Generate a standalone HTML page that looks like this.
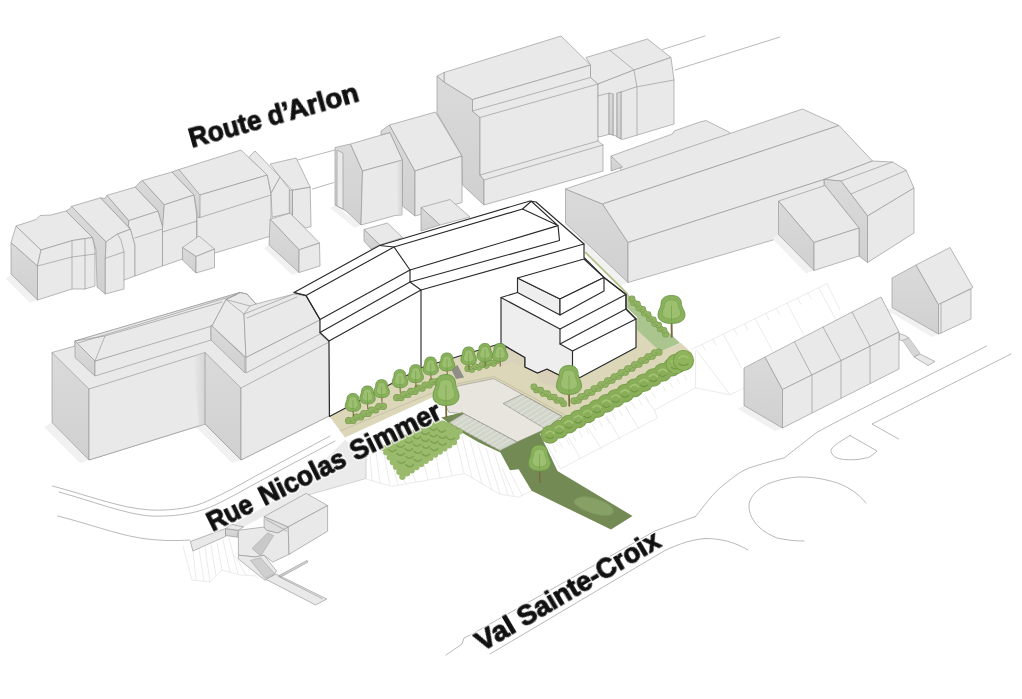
<!DOCTYPE html>
<html lang="fr">
<head>
<meta charset="utf-8">
<title>Plan de situation</title>
<style>
html,body{margin:0;padding:0;background:#fff;}
body{width:1022px;height:699px;overflow:hidden;}
svg{display:block;}
text{text-rendering:geometricPrecision;}
.l{fill:#e9e9e9;stroke:#949494;stroke-width:.65;stroke-linejoin:round;}
.d{fill:url(#dk);stroke:#949494;stroke-width:.65;stroke-linejoin:round;}
.m{fill:#dedede;stroke:#949494;stroke-width:.65;stroke-linejoin:round;}
.g{fill:none;stroke:#949494;stroke-width:.65;stroke-linejoin:round;stroke-linecap:round;}
.sh{fill:#f1f1f1;stroke:none;}
.r{fill:none;stroke:#a2a2a2;stroke-width:.75;stroke-linejoin:round;stroke-linecap:round;}
.f{fill:none;stroke:#e4e4e4;stroke-width:.75;stroke-linejoin:round;stroke-linecap:round;}
.w{fill:#fff;stroke:#2a2a2a;stroke-width:1.15;stroke-linejoin:round;}
.wg{fill:#eeeeef;stroke:#2a2a2a;stroke-width:1.15;stroke-linejoin:round;}
.k{fill:none;stroke:#2a2a2a;stroke-width:1.15;stroke-linejoin:round;stroke-linecap:round;}
.bg{fill:#ddd7b9;stroke:none;}
.pl{fill:#e7e5dd;stroke:#8a8a80;stroke-width:.6;stroke-linejoin:round;}
.gr{fill:#abc58f;stroke:none;}
.bu{fill:#8fb45b;stroke:#6f9a45;stroke-width:.6;}
.dg{fill:#738a54;stroke:none;}
.st{fill:#d2d5c9;stroke:#85857b;stroke-width:.6;stroke-linejoin:round;}
.t{font-family:"Liberation Sans","DejaVu Sans",sans-serif;font-weight:700;fill:#111;stroke:#111;stroke-width:1;stroke-linejoin:round;}

</style>
</head>
<body>
<svg width="1022" height="699" viewBox="0 0 1022 699">
<defs><linearGradient id="shd" x1="0" y1="0" x2="1" y2="0"><stop offset="0" stop-color="#d2d2d2" stop-opacity="0"/><stop offset="1" stop-color="#d2d2d2" stop-opacity=".85"/></linearGradient><linearGradient id="dk" x1="0" y1="0" x2="0" y2="1"><stop offset="0" stop-color="#dadada"/><stop offset="1" stop-color="#d0d0d0"/></linearGradient></defs>
<polyline class="r" points="297.5,160 335,150"/>
<polyline class="r" points="312.5,189 334,182.5"/>
<polyline class="r" points="662.5,49.5 705,36"/>
<polyline class="r" points="675,70 780,37"/>
<polygon class="sh" points="11,274 37.5,300 30,303 6,279"/>
<polygon class="d" points="11,242.5 37.5,266 37.5,300 11,274"/>
<polygon class="l" points="11,242.5 16,226 41,250 37.5,266"/>
<polygon class="l" points="16,226 36,219.5 40,215.5 51,215 66,211 92.5,237.5 72.5,240.5 41,250"/>
<polygon class="l" points="37.5,266 41,250 72.5,240.5 92.5,237.5 95,250 95,286 85,289 72,289 37.5,300"/>
<polyline class="g" points="37.5,266 72,257 95,254"/>
<polyline class="g" points="72,241 72,289"/>
<polyline class="g" points="85,239 85,289"/>
<polygon class="d" points="66,211 70,208.8 71.5,206.4 106.1,241.8 105.3,258.3 105.3,294 97,287 95.9,249.7 92.5,237.5"/>
<polygon class="l" points="71.5,206.4 100.6,197.8 130.5,229.2 117.5,234 106.1,241.8"/>
<polygon class="l" points="106.1,241.8 117.5,234 130.5,229.2 135,245 135,276 124,280 124,289 105.3,294 105.3,258.3"/>
<polyline class="g" points="105.3,258.3 124,252"/>
<polyline class="g" points="117.5,234 121,240 124,252 124,280"/>
<polygon class="d" points="100.6,197.8 104.6,198.5 106.9,195.4 128.9,220.6 128.5,226 130.5,229.2"/>
<polygon class="l" points="106.9,195.4 135.2,187.1 158.1,211.1 128.9,220.6"/>
<polygon class="l" points="128.9,220.6 158.1,211.1 162.5,225 162.5,266 135,276 135,245 130.5,229.2 128.5,226"/>
<polyline class="g" points="135,238 162.5,229"/>
<polygon class="d" points="135.2,187.1 140,182 142.3,180.5 164.3,204.8 162.8,228 158.1,211.1"/>
<polygon class="l" points="142.3,180.5 172,172 194,195 164.3,204.8"/>
<polygon class="l" points="164.3,204.8 194,195 197,217 197,253 182.5,259 162.5,266 162.5,228"/>
<polyline class="g" points="162.5,232 197,221"/>
<polygon class="d" points="172,172 176,170.5 179,169.5 201,194 200,217.5 197,240 197,212 194,195"/>
<polygon class="l" points="179,169.5 241,150 267.5,175 200,195"/>
<polygon class="l" points="200,195 267.5,175 271,195 271,236 215,253 197,253 197,217 200,217.5"/>
<polyline class="g" points="200,217.5 271,195"/>
<polygon class="l" points="182.5,247.5 199,236 214.5,249 196,256.5"/>
<polygon class="d" points="182.5,247.5 196,256.5 196,273 182.5,260"/>
<polygon class="l" points="196,256.5 214.5,249 214.5,267.5 196,273"/>
<polygon class="l" points="292.5,190.1 310.2,187.1 311,226.5 305.5,228 292.5,216"/>
<polygon class="l" points="270.1,164 296.1,158 310.2,187.1 292.1,190.1 280.1,177.1"/>
<polygon class="l" points="249,157.5 251,155 255,151 280.1,177.1 271.1,193 267.3,175.2"/>
<polygon class="l" points="271.1,193 280.1,177.1 290.1,190.1 290.1,213.1 272.1,217.2"/>
<polygon class="d" points="289.3,190.1 292.5,190.1 292.5,215.5 289.3,213.3"/>
<polygon class="sh" points="269,245 299,272.5 292,275 264,248"/>
<polygon class="l" points="270.1,219.2 290.1,213.1 319.5,243 299.1,249.8"/>
<polygon class="d" points="270.1,219.2 299.1,249.8 299,272.5 269,245"/>
<polygon class="l" points="299.1,249.8 319.5,243 320,266 299,272.5"/>
<polygon class="sh" points="335,205 361,225 355,228 330,208"/>
<polygon class="d" points="335,147.5 350.5,144 362.5,171 361,225 346,211 335,205"/>
<polygon class="l" points="337,150 343,153 343,209 337,206"/>
<polygon class="l" points="350.5,144 390,132.5 402.5,160 362.5,171"/>
<polygon class="l" points="362.5,171 402.5,160 402,215 395,215.5 361,225"/>
<polygon points="396,161.8 402.5,160 402,215 398,215.3" fill="url(#shd)"/>
<polygon class="d" points="381,131 389.5,125 415,171 415,216 402.5,206 402.5,160 390,132.5 381,135"/>
<polygon class="l" points="389.5,125 435.5,112 462,156 415,171"/>
<polygon class="l" points="415,171 462,156 462,202.5 415,216"/>
<polygon class="l" points="421,207.5 450,199.5 470,217 440,225"/>
<polygon class="d" points="421,207.5 440,225 421,231"/>
<polygon class="l" points="364,229.5 387.5,223 402.5,237.5 380,245"/>
<polygon class="d" points="364,229.5 380,245 371,249 364,241"/>
<polygon class="d" points="437,76 444,82 472.5,99.5 472.5,111 480,117.5 480,175 484,180 484,205 462.5,185 462,156 437,113"/>
<polygon class="l" points="444,72.5 561,36 590.5,65 472.5,99.5 444,82"/>
<polygon class="l" points="437,76 444,72.5 444,82"/>
<polygon class="l" points="472.5,99.5 590.5,65 590.5,77.5 598,84 598,141 603,145 603,171 484,205 484,180 480,175 480,117.5 472.5,111"/>
<polyline class="g" points="472.5,111 590.5,77.5"/>
<polyline class="g" points="480,117.5 598,84"/>
<polyline class="g" points="480,175 598,141"/>
<polyline class="g" points="484,180 603,145"/>
<polygon class="l" points="586,57.5 647.5,39 671,57.5 634,70 598,84 590.5,77.5 590.5,65"/>
<polygon class="l" points="598,84 634,70 671,57.5 674,80 674,124 622.5,139.5 616,136 610,134 603,136 598,137"/>
<polyline class="g" points="598,96 609,93 609,134"/>
<polyline class="g" points="613,94 613,135"/>
<polyline class="g" points="617,93 617,137"/>
<polyline class="g" points="621,92 621,139"/>
<polygon class="d" points="609,93 613,94 613,135 609,134"/>
<polygon class="d" points="617,93 621,92 621,139 617,137"/>
<polyline class="g" points="621,92 636,87 674,80"/>
<polyline class="g" points="610,50.5 634,70 637,88 637,135"/>
<polygon class="l" points="611,156 672.5,134 674,131 700,122 706,120.5 729,132 735,138 622.5,172"/>
<polygon class="d" points="611,156 622.5,167 611,171"/>
<polygon class="sh" points="565.5,223 628,282.5 620,286 560,226"/>
<polygon class="d" points="565.5,189 602.5,204 628,242.5 628,282.5 565.5,223"/>
<polygon class="l" points="565.5,189 802.5,109 839,125.5 602.5,204"/>
<polygon class="l" points="602.5,204 839,125.5 872.5,161 824,179.5 628,242.5"/>
<polygon class="l" points="628,242.5 824,179.5 824,225 628,282.5"/>
<polygon class="l" points="824,179.5 872.5,161 892.5,162 906,170 914,188 867.5,216 841,181"/>
<polyline class="g" points="841,181 892.5,162"/>
<polyline class="g" points="851,194 906,170.5"/>
<polygon class="d" points="824,179.5 841,181 867.5,216 867.5,262.5 859,256 859,228 825,185.5"/>
<polygon class="l" points="867.5,216 914,188 914,233 867.5,262.5"/>
<polygon class="sh" points="778.5,234.5 814,270.5 806,273.5 772,238"/>
<polygon class="l" points="778.5,201 825,185.5 859,228 814,242.5"/>
<polygon class="d" points="778.5,201 814,242.5 814,270.5 778.5,234.5"/>
<polygon class="l" points="814,242.5 859,228 859,256 814,270.5"/>
<polygon class="sh" points="892,307.5 938.5,334 932,337 886,310"/>
<polygon class="d" points="892,278 916,265 938.5,304.5 938.5,334 892,307.5"/>
<polygon class="l" points="916,265 950,247.5 973,287.5 938.5,304.5"/>
<polygon class="l" points="938.5,304.5 971,289 971,319 941,333 938.5,334"/>
<polyline class="g" points="941,304 941,333"/>
<polyline class="f" points="691.5,349.5 827,283.7"/>
<polyline class="f" points="695.6,350.8 695.6,387.8 730,394.7 697,350.8"/>
<polyline class="f" points="730,394.7 744,388"/>
<polyline class="f" points="702.1,344.4 705.4,350.5"/>
<polyline class="f" points="712.7,339.2 716.0,345.4"/>
<polyline class="f" points="723.3,334.1 741.2,367.5"/>
<polyline class="f" points="733.9,328.9 737.2,335.1"/>
<polyline class="f" points="744.5,323.8 747.8,329.9"/>
<polyline class="f" points="755.1,318.6 773.0,352.0"/>
<polyline class="f" points="765.7,313.4 769.0,319.6"/>
<polyline class="f" points="776.3,308.3 779.6,314.5"/>
<polyline class="f" points="786.9,303.1 804.8,336.6"/>
<polyline class="f" points="797.5,298.0 800.8,304.2"/>
<polyline class="f" points="808.1,292.9 811.4,299.0"/>
<polyline class="f" points="818.7,287.7 836.6,321.1"/>
<polyline class="f" points="827,283.7 840,310"/>
<polygon class="sh" points="744,405.5 782.5,428 775,431 738,409"/>
<polygon class="d" points="744,368 765,357 782.5,389.5 782.5,428 744,405.5"/>
<polygon class="l" points="765,357 881,297 899,332 782.5,389.5"/>
<polygon class="l" points="782.5,389.5 899,332 899,369 782.5,428"/>
<polyline class="g" points="794.5,342 812,375.5 812,412.5"/>
<polyline class="g" points="823,327 841,360.5 841,398"/>
<polyline class="g" points="852,312 870,346 870,383"/>
<polygon class="l" points="899.5,333.5 906,336 909,338 902.5,340.5 899.5,340"/>
<polygon class="" points="902.5,340.5 909,338 920,353 914,357" fill="#d6d6d6" stroke="#a5a5a5" stroke-width=".5"/>
<polygon class="l" points="914,357 920,354 935,361.5 928,365.5"/>
<path class="r" d="M695.5,516.5 C705,505 712,494 724,484.5 C735,476 742,470 752,467 C765,463 775,460 784,458 L816,433 C830,424 960,360 986.5,346"/>
<path class="r" d="M1011,354 L872,424 L898.5,439"/>
<path class="r" d="M850,435.5 L877,451 C872,456 868,458 866,458 C858,460 850,460 844.5,459.5 C838,459 833,457 831,452 C830,448 836,444 850,435.5 Z"/>
<path class="r" d="M866,503 C858,493 848,487 837.5,483 C825,479 812,477 802,477 C790,477 777,480 766.5,484.5 C756,490 749,498 749,506 C749,514 753,521 759,527 C764,532 770,535 777,538 C786,540 795,541 804,541"/>
<path class="r" d="M706,538.5 C720,538.5 735,542 748,550"/>
<path class="r" d="M446,655 L462,644 L464,638 L473,633.5 L655,531 C665,527 680,522 695.5,516.5"/>
<path class="r" d="M490,654 L664,551 C680,543 695,539 706,538.5"/>
<polygon class="sh" points="52,422.5 89,460 80,463 44,427"/>
<polygon class="sh" points="205,424 241,460 232,463 196,427"/>
<polygon class="l" points="52,352.5 75,346 75,341 240,292.5 247,294 256,304 294,294 306,296 320,320 320,334 329,342 329,416 241,460 205,424 89,460"/>
<polygon class="d" points="52,352.5 89,389 89,460 52,422.5"/>
<polygon class="l" points="89,389 205,352.5 205,424 89,460"/>
<polygon points="193,356.3 205,352.5 205,424 199,426" fill="url(#shd)"/>
<polygon class="d" points="205,352.5 241,388 241,460 205,424"/>
<polygon class="l" points="241,388 329,342 329,416 241,460"/>
<polygon class="d" points="75,341 95,361 95,376 75,357.5"/>
<polygon class="l" points="95,361 211,325 211,340 95,376"/>
<polygon class="l" points="75,341 240,292.5 226,299.5 212,326 95,361"/>
<polyline class="g" points="75,341 105,336 95,361"/>
<polyline class="g" points="105,336 222,302"/>
<polyline class="g" points="78,343 236,295"/>
<polygon class="d" points="211,325 245,357.5 245,373 211,340"/>
<polygon class="l" points="212,326 226,299.5 244,314 246,357.5"/>
<polygon class="l" points="244,314 294,294 306,296 320,320 246,357.5"/>
<polygon class="l" points="246,357.5 320,320 320,334 246,373"/>
<polyline class="g" points="226,299.5 240,292.5 247,294 256,304"/>
<polyline class="g" points="226,299.5 250,306 244,314"/>
<polyline class="g" points="250,306 256,304"/>
<polyline class="g" points="247,318 297,297"/>
<path class="r" d="M52.5,486 C90,496 120,508 150,510 C175,511 195,507 207.5,501 C225,493 240,485 255.5,476 L330,436"/>
<path class="r" d="M59,492 C95,502 125,514 150,516 C180,517 200,512 215,505 C232,497 245,489 262,480 L335,441"/>
<path class="r" d="M57.5,516 C90,524 115,534 140,538 C160,541 175,541 190,540"/>
<polyline class="f" points="365.8,457.4 365.8,478.9 391.7,486.4 464.9,473.5 499.3,494 518.7,497.2 531.6,490.7"/>
<polyline class="f" points="370,455 372,481"/>
<polyline class="f" points="376,452 380,483"/>
<polyline class="f" points="383,449 390,485"/>
<polyline class="f" points="392,462 398,485"/>
<polyline class="f" points="400,474 406,484"/>
<polyline class="f" points="412,472 416,482"/>
<polyline class="f" points="424,464 428,480"/>
<polyline class="f" points="436,456 440,478"/>
<polyline class="f" points="446,448 452,476"/>
<polyline class="f" points="456,440 464,473"/>
<polyline class="f" points="462,436 472,478"/>
<polyline class="f" points="470,440 482,484"/>
<polyline class="f" points="478,444 492,490"/>
<polyline class="f" points="486,448 500,494"/>
<polyline class="f" points="494,452 508,495"/>
<polyline class="f" points="502,468 514,496"/>
<polyline class="f" points="510,472 522,495"/>
<polygon class="" points="192,541 225.5,528.6 262,508 300,484 345,440 366,456 366,478.5 308,495 264,516 238,530 225,536 193,551" fill="#ebebeb"/>
<polyline points="308,495 366,478.5 366,456" fill="none" stroke="#c4c4c4" stroke-width=".7"/>
<polyline class="f" points="547.8,446.3 560.5,468.8 657.4,418 654.5,410.1 695.6,387.6"/>
<polyline class="f" points="568.4,437.5 580.1,458"/>
<polyline class="f" points="588,427.7 601.6,449.3"/>
<polyline class="f" points="606.5,416 620.2,439.5"/>
<polyline class="f" points="625.1,406.2 638.8,428.7"/>
<polyline class="f" points="643.7,396.4 654.5,410.1"/>
<polyline class="f" points="553.0,446.0 556.2,452.0"/>
<polyline class="f" points="559.6,442.4 562.8,448.4"/>
<polyline class="f" points="566.2,438.8 569.4,444.8"/>
<polyline class="f" points="572.8,435.2 576.0,441.2"/>
<polyline class="f" points="579.4,431.6 582.6,437.6"/>
<polyline class="f" points="586.0,428.0 589.2,434.0"/>
<polyline class="f" points="592.6,424.4 595.8,430.4"/>
<polyline class="f" points="599.2,420.8 602.4,426.8"/>
<polyline class="f" points="605.8,417.2 609.0,423.2"/>
<polyline class="f" points="612.4,413.6 615.6,419.6"/>
<polyline class="f" points="619.0,410.0 622.2,416.0"/>
<polyline class="f" points="625.6,406.4 628.8,412.4"/>
<polyline class="f" points="632.2,402.8 635.4,408.8"/>
<polyline class="f" points="638.8,399.2 642.0,405.2"/>
<polyline class="f" points="645.4,395.6 648.6,401.6"/>
<polyline class="f" points="652.0,392.0 655.2,398.0"/>
<polyline class="f" points="663.0,386.5 665.5,391.0"/>
<polyline class="f" points="670.0,382.7 672.5,387.2"/>
<polyline class="f" points="677.0,378.9 679.5,383.4"/>
<polyline class="f" points="684.0,375.1 686.5,379.6"/>
<polygon class="bg" points="329.5,416.5 422,367.5 500.5,343.5 525,357.5 547,369 580,377.5 636,347.5 636,319 660,351 681,343 692,353 690,362 562,424 545.6,429 562,416.4 522,394.4 493.7,378.6 459,385.7 437.5,395 345,437.5"/>
<polygon class="pl" points="459,385.7 493.7,378.6 562,416.4 545.6,429 517,442 463.8,413.7 449,412.5 440,396"/>
<polygon class="gr" points="627.2,293.6 680.1,343 660.1,351.5 637.2,330.1 637.2,317.2 627.2,307.9"/>
<polygon class="" points="584.3,252.5 585.8,251.5 628.2,293.3 626.8,294.6" fill="#b3c288"/>
<polygon class="dg" points="441.2,417.5 462.7,412.2 463.8,413.7 449,422.7 500,450.5 517,442 545.6,429 540,434 557.5,471 632.5,516 611,529.5 560,504.7 531.6,490.7 518.7,469.2 510,470.3 500.4,452.5 479,442.5 460,431.5"/>
<path class="" d="M576,499 C583,494 596,498 606,503 C614,507 616,513 610,515 C602,517 590,513 582,509 C575,505 572,502 576,499 Z" fill="#86a066" stroke="#7d985c" stroke-width="1"/>
<polygon class="st" points="449,422.7 463.8,413.7 517,442 500,450.5"/>
<polygon class="st" points="503,403.5 522,394.4 562,416.4 545.6,429"/>
<line x1="453.2" y1="425.0" x2="468.1" y2="416.0" stroke="#e3e5dc" stroke-width=".9"/>
<line x1="457.5" y1="427.3" x2="472.3" y2="418.3" stroke="#e3e5dc" stroke-width=".9"/>
<line x1="461.8" y1="429.6" x2="476.6" y2="420.6" stroke="#e3e5dc" stroke-width=".9"/>
<line x1="466.0" y1="432.0" x2="480.8" y2="423.0" stroke="#e3e5dc" stroke-width=".9"/>
<line x1="470.2" y1="434.3" x2="485.1" y2="425.3" stroke="#e3e5dc" stroke-width=".9"/>
<line x1="474.5" y1="436.6" x2="489.3" y2="427.6" stroke="#e3e5dc" stroke-width=".9"/>
<line x1="478.8" y1="438.9" x2="493.6" y2="429.9" stroke="#e3e5dc" stroke-width=".9"/>
<line x1="483.0" y1="441.2" x2="497.8" y2="432.2" stroke="#e3e5dc" stroke-width=".9"/>
<line x1="487.2" y1="443.6" x2="502.1" y2="434.6" stroke="#e3e5dc" stroke-width=".9"/>
<line x1="491.5" y1="445.9" x2="506.3" y2="436.9" stroke="#e3e5dc" stroke-width=".9"/>
<line x1="495.8" y1="448.2" x2="510.6" y2="439.2" stroke="#e3e5dc" stroke-width=".9"/>
<line x1="507.3" y1="406.1" x2="524.3" y2="395.6" stroke="#e3e5dc" stroke-width=".9"/>
<line x1="511.5" y1="408.6" x2="528.5" y2="398.1" stroke="#e3e5dc" stroke-width=".9"/>
<line x1="515.8" y1="411.1" x2="532.8" y2="400.6" stroke="#e3e5dc" stroke-width=".9"/>
<line x1="520.0" y1="413.7" x2="537.0" y2="403.2" stroke="#e3e5dc" stroke-width=".9"/>
<line x1="524.3" y1="416.2" x2="541.3" y2="405.8" stroke="#e3e5dc" stroke-width=".9"/>
<line x1="528.6" y1="418.8" x2="545.6" y2="408.3" stroke="#e3e5dc" stroke-width=".9"/>
<line x1="532.8" y1="421.4" x2="549.8" y2="410.9" stroke="#e3e5dc" stroke-width=".9"/>
<line x1="537.1" y1="423.9" x2="554.1" y2="413.4" stroke="#e3e5dc" stroke-width=".9"/>
<line x1="541.3" y1="426.4" x2="558.3" y2="415.9" stroke="#e3e5dc" stroke-width=".9"/>
<polygon class="" points="500.5,343.5 525,357.5 525,367 511,362 500,366 492,352" fill="#dad3bb"/>
<polygon class="" points="537.5,373 547,369 566,380 566,392 537.5,381" fill="#d8d0b8"/>
<polygon class="" points="451,369 457.5,365 464,377.5 456,379" fill="#8e8e86"/>
<polyline points="340,431 437,391 459,383.5 494,376.5 565,415" fill="none" stroke="#b9b29a" stroke-width=".6"/>
<circle cx="348.6" cy="420.7" r="3.6" fill="#779c4b"/>
<circle cx="353.1" cy="420.5" r="3.6" fill="#779c4b"/>
<circle cx="356.2" cy="417.2" r="3.6" fill="#779c4b"/>
<circle cx="360.7" cy="416.9" r="3.6" fill="#779c4b"/>
<circle cx="363.8" cy="413.6" r="3.6" fill="#779c4b"/>
<circle cx="368.2" cy="413.4" r="3.6" fill="#779c4b"/>
<circle cx="371.3" cy="410.1" r="3.6" fill="#779c4b"/>
<circle cx="375.8" cy="409.8" r="3.6" fill="#779c4b"/>
<circle cx="378.9" cy="406.5" r="3.6" fill="#779c4b"/>
<circle cx="383.4" cy="406.3" r="3.6" fill="#779c4b"/>
<circle cx="348.6" cy="420.7" r="3.0" fill="#90b262"/>
<circle cx="353.1" cy="420.5" r="3.0" fill="#90b262"/>
<circle cx="356.2" cy="417.2" r="3.0" fill="#90b262"/>
<circle cx="360.7" cy="416.9" r="3.0" fill="#90b262"/>
<circle cx="363.8" cy="413.6" r="3.0" fill="#90b262"/>
<circle cx="368.2" cy="413.4" r="3.0" fill="#90b262"/>
<circle cx="371.3" cy="410.1" r="3.0" fill="#90b262"/>
<circle cx="375.8" cy="409.8" r="3.0" fill="#90b262"/>
<circle cx="378.9" cy="406.5" r="3.0" fill="#90b262"/>
<circle cx="383.4" cy="406.3" r="3.0" fill="#90b262"/>
<path d="M349.4,420.9 q1.5,1.6 3,0" fill="none" stroke="#6f9a45" stroke-width=".7"/>
<path d="M353.2,419.1 q1.5,1.6 3,0" fill="none" stroke="#6f9a45" stroke-width=".7"/>
<path d="M356.9,417.4 q1.5,1.6 3,0" fill="none" stroke="#6f9a45" stroke-width=".7"/>
<path d="M360.7,415.6 q1.5,1.6 3,0" fill="none" stroke="#6f9a45" stroke-width=".7"/>
<path d="M364.5,413.8 q1.5,1.6 3,0" fill="none" stroke="#6f9a45" stroke-width=".7"/>
<path d="M368.3,412.0 q1.5,1.6 3,0" fill="none" stroke="#6f9a45" stroke-width=".7"/>
<path d="M372.1,410.2 q1.5,1.6 3,0" fill="none" stroke="#6f9a45" stroke-width=".7"/>
<path d="M375.8,408.5 q1.5,1.6 3,0" fill="none" stroke="#6f9a45" stroke-width=".7"/>
<path d="M379.6,406.7 q1.5,1.6 3,0" fill="none" stroke="#6f9a45" stroke-width=".7"/>
<circle cx="396.7" cy="397.7" r="3.6" fill="#779c4b"/>
<circle cx="400.9" cy="397.7" r="3.6" fill="#779c4b"/>
<circle cx="403.7" cy="394.6" r="3.6" fill="#779c4b"/>
<circle cx="408.0" cy="394.5" r="3.6" fill="#779c4b"/>
<circle cx="410.8" cy="391.4" r="3.6" fill="#779c4b"/>
<circle cx="415.1" cy="391.3" r="3.6" fill="#779c4b"/>
<circle cx="417.9" cy="388.2" r="3.6" fill="#779c4b"/>
<circle cx="422.2" cy="388.1" r="3.6" fill="#779c4b"/>
<circle cx="425.0" cy="385.0" r="3.6" fill="#779c4b"/>
<circle cx="429.3" cy="384.9" r="3.6" fill="#779c4b"/>
<circle cx="432.1" cy="381.8" r="3.6" fill="#779c4b"/>
<circle cx="436.3" cy="381.8" r="3.6" fill="#779c4b"/>
<circle cx="396.7" cy="397.7" r="3.0" fill="#90b262"/>
<circle cx="400.9" cy="397.7" r="3.0" fill="#90b262"/>
<circle cx="403.7" cy="394.6" r="3.0" fill="#90b262"/>
<circle cx="408.0" cy="394.5" r="3.0" fill="#90b262"/>
<circle cx="410.8" cy="391.4" r="3.0" fill="#90b262"/>
<circle cx="415.1" cy="391.3" r="3.0" fill="#90b262"/>
<circle cx="417.9" cy="388.2" r="3.0" fill="#90b262"/>
<circle cx="422.2" cy="388.1" r="3.0" fill="#90b262"/>
<circle cx="425.0" cy="385.0" r="3.0" fill="#90b262"/>
<circle cx="429.3" cy="384.9" r="3.0" fill="#90b262"/>
<circle cx="432.1" cy="381.8" r="3.0" fill="#90b262"/>
<circle cx="436.3" cy="381.8" r="3.0" fill="#90b262"/>
<path d="M397.3,398.0 q1.5,1.6 3,0" fill="none" stroke="#6f9a45" stroke-width=".7"/>
<path d="M400.8,396.4 q1.5,1.6 3,0" fill="none" stroke="#6f9a45" stroke-width=".7"/>
<path d="M404.4,394.8 q1.5,1.6 3,0" fill="none" stroke="#6f9a45" stroke-width=".7"/>
<path d="M407.9,393.2 q1.5,1.6 3,0" fill="none" stroke="#6f9a45" stroke-width=".7"/>
<path d="M411.5,391.6 q1.5,1.6 3,0" fill="none" stroke="#6f9a45" stroke-width=".7"/>
<path d="M415.0,390.1 q1.5,1.6 3,0" fill="none" stroke="#6f9a45" stroke-width=".7"/>
<path d="M418.5,388.5 q1.5,1.6 3,0" fill="none" stroke="#6f9a45" stroke-width=".7"/>
<path d="M422.1,386.9 q1.5,1.6 3,0" fill="none" stroke="#6f9a45" stroke-width=".7"/>
<path d="M425.6,385.3 q1.5,1.6 3,0" fill="none" stroke="#6f9a45" stroke-width=".7"/>
<path d="M429.2,383.7 q1.5,1.6 3,0" fill="none" stroke="#6f9a45" stroke-width=".7"/>
<path d="M432.7,382.1 q1.5,1.6 3,0" fill="none" stroke="#6f9a45" stroke-width=".7"/>
<circle cx="467.8" cy="368.7" r="3.4" fill="#779c4b"/>
<circle cx="471.8" cy="369.3" r="3.4" fill="#779c4b"/>
<circle cx="475.0" cy="366.7" r="3.4" fill="#779c4b"/>
<circle cx="479.1" cy="367.3" r="3.4" fill="#779c4b"/>
<circle cx="482.3" cy="364.7" r="3.4" fill="#779c4b"/>
<circle cx="486.3" cy="365.3" r="3.4" fill="#779c4b"/>
<circle cx="489.5" cy="362.7" r="3.4" fill="#779c4b"/>
<circle cx="493.6" cy="363.3" r="3.4" fill="#779c4b"/>
<circle cx="496.8" cy="360.7" r="3.4" fill="#779c4b"/>
<circle cx="467.8" cy="368.7" r="2.8" fill="#90b262"/>
<circle cx="471.8" cy="369.3" r="2.8" fill="#90b262"/>
<circle cx="475.0" cy="366.7" r="2.8" fill="#90b262"/>
<circle cx="479.1" cy="367.3" r="2.8" fill="#90b262"/>
<circle cx="482.3" cy="364.7" r="2.8" fill="#90b262"/>
<circle cx="486.3" cy="365.3" r="2.8" fill="#90b262"/>
<circle cx="489.5" cy="362.7" r="2.8" fill="#90b262"/>
<circle cx="493.6" cy="363.3" r="2.8" fill="#90b262"/>
<circle cx="496.8" cy="360.7" r="2.8" fill="#90b262"/>
<path d="M468.3,369.3 q1.5,1.6 3,0" fill="none" stroke="#6f9a45" stroke-width=".7"/>
<path d="M471.9,368.3 q1.5,1.6 3,0" fill="none" stroke="#6f9a45" stroke-width=".7"/>
<path d="M475.6,367.3 q1.5,1.6 3,0" fill="none" stroke="#6f9a45" stroke-width=".7"/>
<path d="M479.2,366.3 q1.5,1.6 3,0" fill="none" stroke="#6f9a45" stroke-width=".7"/>
<path d="M482.8,365.3 q1.5,1.6 3,0" fill="none" stroke="#6f9a45" stroke-width=".7"/>
<path d="M486.4,364.3 q1.5,1.6 3,0" fill="none" stroke="#6f9a45" stroke-width=".7"/>
<path d="M490.1,363.3 q1.5,1.6 3,0" fill="none" stroke="#6f9a45" stroke-width=".7"/>
<path d="M493.7,362.3 q1.5,1.6 3,0" fill="none" stroke="#6f9a45" stroke-width=".7"/>
<circle cx="533.9" cy="386.8" r="3.4" fill="#779c4b"/>
<circle cx="536.5" cy="389.9" r="3.4" fill="#779c4b"/>
<circle cx="540.6" cy="390.2" r="3.4" fill="#779c4b"/>
<circle cx="543.3" cy="393.4" r="3.4" fill="#779c4b"/>
<circle cx="547.4" cy="393.7" r="3.4" fill="#779c4b"/>
<circle cx="550.1" cy="396.8" r="3.4" fill="#779c4b"/>
<circle cx="554.2" cy="397.1" r="3.4" fill="#779c4b"/>
<circle cx="556.9" cy="400.3" r="3.4" fill="#779c4b"/>
<circle cx="561.0" cy="400.6" r="3.4" fill="#779c4b"/>
<circle cx="563.6" cy="403.7" r="3.4" fill="#779c4b"/>
<circle cx="533.9" cy="386.8" r="2.8" fill="#90b262"/>
<circle cx="536.5" cy="389.9" r="2.8" fill="#90b262"/>
<circle cx="540.6" cy="390.2" r="2.8" fill="#90b262"/>
<circle cx="543.3" cy="393.4" r="2.8" fill="#90b262"/>
<circle cx="547.4" cy="393.7" r="2.8" fill="#90b262"/>
<circle cx="550.1" cy="396.8" r="2.8" fill="#90b262"/>
<circle cx="554.2" cy="397.1" r="2.8" fill="#90b262"/>
<circle cx="556.9" cy="400.3" r="2.8" fill="#90b262"/>
<circle cx="561.0" cy="400.6" r="2.8" fill="#90b262"/>
<circle cx="563.6" cy="403.7" r="2.8" fill="#90b262"/>
<path d="M533.7,388.7 q1.5,1.6 3,0" fill="none" stroke="#6f9a45" stroke-width=".7"/>
<path d="M537.1,390.4 q1.5,1.6 3,0" fill="none" stroke="#6f9a45" stroke-width=".7"/>
<path d="M540.5,392.1 q1.5,1.6 3,0" fill="none" stroke="#6f9a45" stroke-width=".7"/>
<path d="M543.9,393.8 q1.5,1.6 3,0" fill="none" stroke="#6f9a45" stroke-width=".7"/>
<path d="M547.2,395.6 q1.5,1.6 3,0" fill="none" stroke="#6f9a45" stroke-width=".7"/>
<path d="M550.6,397.3 q1.5,1.6 3,0" fill="none" stroke="#6f9a45" stroke-width=".7"/>
<path d="M554.0,399.0 q1.5,1.6 3,0" fill="none" stroke="#6f9a45" stroke-width=".7"/>
<path d="M557.4,400.7 q1.5,1.6 3,0" fill="none" stroke="#6f9a45" stroke-width=".7"/>
<path d="M560.8,402.4 q1.5,1.6 3,0" fill="none" stroke="#6f9a45" stroke-width=".7"/>
<circle cx="574.1" cy="400.8" r="3.6" fill="#779c4b"/>
<circle cx="578.3" cy="400.2" r="3.6" fill="#779c4b"/>
<circle cx="580.8" cy="396.8" r="3.6" fill="#779c4b"/>
<circle cx="585.0" cy="396.2" r="3.6" fill="#779c4b"/>
<circle cx="587.5" cy="392.8" r="3.6" fill="#779c4b"/>
<circle cx="591.7" cy="392.2" r="3.6" fill="#779c4b"/>
<circle cx="594.2" cy="388.8" r="3.6" fill="#779c4b"/>
<circle cx="598.4" cy="388.2" r="3.6" fill="#779c4b"/>
<circle cx="601.0" cy="384.8" r="3.6" fill="#779c4b"/>
<circle cx="605.2" cy="384.2" r="3.6" fill="#779c4b"/>
<circle cx="607.7" cy="380.8" r="3.6" fill="#779c4b"/>
<circle cx="611.9" cy="380.2" r="3.6" fill="#779c4b"/>
<circle cx="614.4" cy="376.8" r="3.6" fill="#779c4b"/>
<circle cx="618.6" cy="376.2" r="3.6" fill="#779c4b"/>
<circle cx="621.1" cy="372.8" r="3.6" fill="#779c4b"/>
<circle cx="625.3" cy="372.2" r="3.6" fill="#779c4b"/>
<circle cx="627.8" cy="368.8" r="3.6" fill="#779c4b"/>
<circle cx="632.0" cy="368.2" r="3.6" fill="#779c4b"/>
<circle cx="634.6" cy="364.8" r="3.6" fill="#779c4b"/>
<circle cx="638.8" cy="364.2" r="3.6" fill="#779c4b"/>
<circle cx="641.3" cy="360.8" r="3.6" fill="#779c4b"/>
<circle cx="645.5" cy="360.2" r="3.6" fill="#779c4b"/>
<circle cx="648.0" cy="356.8" r="3.6" fill="#779c4b"/>
<circle cx="652.2" cy="356.2" r="3.6" fill="#779c4b"/>
<circle cx="654.7" cy="352.8" r="3.6" fill="#779c4b"/>
<circle cx="658.9" cy="352.2" r="3.6" fill="#779c4b"/>
<circle cx="574.1" cy="400.8" r="3.0" fill="#90b262"/>
<circle cx="578.3" cy="400.2" r="3.0" fill="#90b262"/>
<circle cx="580.8" cy="396.8" r="3.0" fill="#90b262"/>
<circle cx="585.0" cy="396.2" r="3.0" fill="#90b262"/>
<circle cx="587.5" cy="392.8" r="3.0" fill="#90b262"/>
<circle cx="591.7" cy="392.2" r="3.0" fill="#90b262"/>
<circle cx="594.2" cy="388.8" r="3.0" fill="#90b262"/>
<circle cx="598.4" cy="388.2" r="3.0" fill="#90b262"/>
<circle cx="601.0" cy="384.8" r="3.0" fill="#90b262"/>
<circle cx="605.2" cy="384.2" r="3.0" fill="#90b262"/>
<circle cx="607.7" cy="380.8" r="3.0" fill="#90b262"/>
<circle cx="611.9" cy="380.2" r="3.0" fill="#90b262"/>
<circle cx="614.4" cy="376.8" r="3.0" fill="#90b262"/>
<circle cx="618.6" cy="376.2" r="3.0" fill="#90b262"/>
<circle cx="621.1" cy="372.8" r="3.0" fill="#90b262"/>
<circle cx="625.3" cy="372.2" r="3.0" fill="#90b262"/>
<circle cx="627.8" cy="368.8" r="3.0" fill="#90b262"/>
<circle cx="632.0" cy="368.2" r="3.0" fill="#90b262"/>
<circle cx="634.6" cy="364.8" r="3.0" fill="#90b262"/>
<circle cx="638.8" cy="364.2" r="3.0" fill="#90b262"/>
<circle cx="641.3" cy="360.8" r="3.0" fill="#90b262"/>
<circle cx="645.5" cy="360.2" r="3.0" fill="#90b262"/>
<circle cx="648.0" cy="356.8" r="3.0" fill="#90b262"/>
<circle cx="652.2" cy="356.2" r="3.0" fill="#90b262"/>
<circle cx="654.7" cy="352.8" r="3.0" fill="#90b262"/>
<circle cx="658.9" cy="352.2" r="3.0" fill="#90b262"/>
<path d="M574.7,400.8 q1.5,1.6 3,0" fill="none" stroke="#6f9a45" stroke-width=".7"/>
<path d="M578.0,398.8 q1.5,1.6 3,0" fill="none" stroke="#6f9a45" stroke-width=".7"/>
<path d="M581.4,396.8 q1.5,1.6 3,0" fill="none" stroke="#6f9a45" stroke-width=".7"/>
<path d="M584.8,394.8 q1.5,1.6 3,0" fill="none" stroke="#6f9a45" stroke-width=".7"/>
<path d="M588.1,392.8 q1.5,1.6 3,0" fill="none" stroke="#6f9a45" stroke-width=".7"/>
<path d="M591.5,390.8 q1.5,1.6 3,0" fill="none" stroke="#6f9a45" stroke-width=".7"/>
<path d="M594.8,388.8 q1.5,1.6 3,0" fill="none" stroke="#6f9a45" stroke-width=".7"/>
<path d="M598.2,386.8 q1.5,1.6 3,0" fill="none" stroke="#6f9a45" stroke-width=".7"/>
<path d="M601.6,384.8 q1.5,1.6 3,0" fill="none" stroke="#6f9a45" stroke-width=".7"/>
<path d="M604.9,382.8 q1.5,1.6 3,0" fill="none" stroke="#6f9a45" stroke-width=".7"/>
<path d="M608.3,380.8 q1.5,1.6 3,0" fill="none" stroke="#6f9a45" stroke-width=".7"/>
<path d="M611.6,378.8 q1.5,1.6 3,0" fill="none" stroke="#6f9a45" stroke-width=".7"/>
<path d="M615.0,376.8 q1.5,1.6 3,0" fill="none" stroke="#6f9a45" stroke-width=".7"/>
<path d="M618.4,374.8 q1.5,1.6 3,0" fill="none" stroke="#6f9a45" stroke-width=".7"/>
<path d="M621.7,372.8 q1.5,1.6 3,0" fill="none" stroke="#6f9a45" stroke-width=".7"/>
<path d="M625.1,370.8 q1.5,1.6 3,0" fill="none" stroke="#6f9a45" stroke-width=".7"/>
<path d="M628.4,368.8 q1.5,1.6 3,0" fill="none" stroke="#6f9a45" stroke-width=".7"/>
<path d="M631.8,366.8 q1.5,1.6 3,0" fill="none" stroke="#6f9a45" stroke-width=".7"/>
<path d="M635.2,364.8 q1.5,1.6 3,0" fill="none" stroke="#6f9a45" stroke-width=".7"/>
<path d="M638.5,362.8 q1.5,1.6 3,0" fill="none" stroke="#6f9a45" stroke-width=".7"/>
<path d="M641.9,360.8 q1.5,1.6 3,0" fill="none" stroke="#6f9a45" stroke-width=".7"/>
<path d="M645.2,358.8 q1.5,1.6 3,0" fill="none" stroke="#6f9a45" stroke-width=".7"/>
<path d="M648.6,356.8 q1.5,1.6 3,0" fill="none" stroke="#6f9a45" stroke-width=".7"/>
<path d="M652.0,354.8 q1.5,1.6 3,0" fill="none" stroke="#6f9a45" stroke-width=".7"/>
<path d="M655.3,352.8 q1.5,1.6 3,0" fill="none" stroke="#6f9a45" stroke-width=".7"/>
<circle cx="632.0" cy="298.9" r="3.4" fill="#779c4b"/>
<circle cx="633.6" cy="302.7" r="3.4" fill="#779c4b"/>
<circle cx="637.4" cy="304.2" r="3.4" fill="#779c4b"/>
<circle cx="638.9" cy="307.9" r="3.4" fill="#779c4b"/>
<circle cx="642.7" cy="309.4" r="3.4" fill="#779c4b"/>
<circle cx="644.2" cy="313.1" r="3.4" fill="#779c4b"/>
<circle cx="648.0" cy="314.6" r="3.4" fill="#779c4b"/>
<circle cx="649.5" cy="318.4" r="3.4" fill="#779c4b"/>
<circle cx="653.3" cy="319.9" r="3.4" fill="#779c4b"/>
<circle cx="654.8" cy="323.6" r="3.4" fill="#779c4b"/>
<circle cx="658.6" cy="325.1" r="3.4" fill="#779c4b"/>
<circle cx="660.1" cy="328.8" r="3.4" fill="#779c4b"/>
<circle cx="663.9" cy="330.3" r="3.4" fill="#779c4b"/>
<circle cx="665.5" cy="334.1" r="3.4" fill="#779c4b"/>
<circle cx="632.0" cy="298.9" r="2.8" fill="#90b262"/>
<circle cx="633.6" cy="302.7" r="2.8" fill="#90b262"/>
<circle cx="637.4" cy="304.2" r="2.8" fill="#90b262"/>
<circle cx="638.9" cy="307.9" r="2.8" fill="#90b262"/>
<circle cx="642.7" cy="309.4" r="2.8" fill="#90b262"/>
<circle cx="644.2" cy="313.1" r="2.8" fill="#90b262"/>
<circle cx="648.0" cy="314.6" r="2.8" fill="#90b262"/>
<circle cx="649.5" cy="318.4" r="2.8" fill="#90b262"/>
<circle cx="653.3" cy="319.9" r="2.8" fill="#90b262"/>
<circle cx="654.8" cy="323.6" r="2.8" fill="#90b262"/>
<circle cx="658.6" cy="325.1" r="2.8" fill="#90b262"/>
<circle cx="660.1" cy="328.8" r="2.8" fill="#90b262"/>
<circle cx="663.9" cy="330.3" r="2.8" fill="#90b262"/>
<circle cx="665.5" cy="334.1" r="2.8" fill="#90b262"/>
<path d="M631.3,301.1 q1.5,1.6 3,0" fill="none" stroke="#6f9a45" stroke-width=".7"/>
<path d="M634.0,303.7 q1.5,1.6 3,0" fill="none" stroke="#6f9a45" stroke-width=".7"/>
<path d="M636.6,306.3 q1.5,1.6 3,0" fill="none" stroke="#6f9a45" stroke-width=".7"/>
<path d="M639.3,309.0 q1.5,1.6 3,0" fill="none" stroke="#6f9a45" stroke-width=".7"/>
<path d="M641.9,311.6 q1.5,1.6 3,0" fill="none" stroke="#6f9a45" stroke-width=".7"/>
<path d="M644.6,314.2 q1.5,1.6 3,0" fill="none" stroke="#6f9a45" stroke-width=".7"/>
<path d="M647.2,316.8 q1.5,1.6 3,0" fill="none" stroke="#6f9a45" stroke-width=".7"/>
<path d="M649.9,319.4 q1.5,1.6 3,0" fill="none" stroke="#6f9a45" stroke-width=".7"/>
<path d="M652.6,322.0 q1.5,1.6 3,0" fill="none" stroke="#6f9a45" stroke-width=".7"/>
<path d="M655.2,324.6 q1.5,1.6 3,0" fill="none" stroke="#6f9a45" stroke-width=".7"/>
<path d="M657.9,327.3 q1.5,1.6 3,0" fill="none" stroke="#6f9a45" stroke-width=".7"/>
<path d="M660.5,329.9 q1.5,1.6 3,0" fill="none" stroke="#6f9a45" stroke-width=".7"/>
<path d="M663.2,332.5 q1.5,1.6 3,0" fill="none" stroke="#6f9a45" stroke-width=".7"/>
<circle cx="550.0" cy="434.5" r="9.3" fill="#769f49"/>
<circle cx="559.4" cy="429.3" r="9.3" fill="#769f49"/>
<circle cx="568.8" cy="424.1" r="9.3" fill="#769f49"/>
<circle cx="578.2" cy="419.0" r="9.3" fill="#769f49"/>
<circle cx="587.6" cy="413.8" r="9.3" fill="#769f49"/>
<circle cx="597.0" cy="408.6" r="9.3" fill="#769f49"/>
<circle cx="606.4" cy="403.4" r="9.3" fill="#769f49"/>
<circle cx="615.8" cy="398.2" r="9.3" fill="#769f49"/>
<circle cx="625.1" cy="393.1" r="9.3" fill="#769f49"/>
<circle cx="634.5" cy="387.9" r="9.3" fill="#769f49"/>
<circle cx="643.9" cy="382.7" r="9.3" fill="#769f49"/>
<circle cx="653.3" cy="377.5" r="9.3" fill="#769f49"/>
<circle cx="662.7" cy="372.4" r="9.3" fill="#769f49"/>
<circle cx="672.1" cy="367.2" r="9.3" fill="#769f49"/>
<circle cx="681.5" cy="362.0" r="9.3" fill="#769f49"/>
<circle cx="550.0" cy="434.5" r="8.4" fill="#8aad5a"/>
<circle cx="559.4" cy="429.3" r="8.4" fill="#8aad5a"/>
<circle cx="568.8" cy="424.1" r="8.4" fill="#8aad5a"/>
<circle cx="578.2" cy="419.0" r="8.4" fill="#8aad5a"/>
<circle cx="587.6" cy="413.8" r="8.4" fill="#8aad5a"/>
<circle cx="597.0" cy="408.6" r="8.4" fill="#8aad5a"/>
<circle cx="606.4" cy="403.4" r="8.4" fill="#8aad5a"/>
<circle cx="615.8" cy="398.2" r="8.4" fill="#8aad5a"/>
<circle cx="625.1" cy="393.1" r="8.4" fill="#8aad5a"/>
<circle cx="634.5" cy="387.9" r="8.4" fill="#8aad5a"/>
<circle cx="643.9" cy="382.7" r="8.4" fill="#8aad5a"/>
<circle cx="653.3" cy="377.5" r="8.4" fill="#8aad5a"/>
<circle cx="662.7" cy="372.4" r="8.4" fill="#8aad5a"/>
<circle cx="672.1" cy="367.2" r="8.4" fill="#8aad5a"/>
<circle cx="681.5" cy="362.0" r="8.4" fill="#8aad5a"/>
<path d="M546.0,433.5 q4,-4.5 8,0" fill="none" stroke="#a3c672" stroke-width="1.6" stroke-linecap="round"/>
<path d="M546.5,437.0 q3.5,3.2 7,0" fill="none" stroke="#6b9643" stroke-width="1.1" stroke-linecap="round"/>
<path d="M555.4,428.3 q4,-4.5 8,0" fill="none" stroke="#a3c672" stroke-width="1.6" stroke-linecap="round"/>
<path d="M555.9,431.8 q3.5,3.2 7,0" fill="none" stroke="#6b9643" stroke-width="1.1" stroke-linecap="round"/>
<path d="M564.8,423.1 q4,-4.5 8,0" fill="none" stroke="#a3c672" stroke-width="1.6" stroke-linecap="round"/>
<path d="M565.3,426.6 q3.5,3.2 7,0" fill="none" stroke="#6b9643" stroke-width="1.1" stroke-linecap="round"/>
<path d="M574.2,418.0 q4,-4.5 8,0" fill="none" stroke="#a3c672" stroke-width="1.6" stroke-linecap="round"/>
<path d="M574.7,421.5 q3.5,3.2 7,0" fill="none" stroke="#6b9643" stroke-width="1.1" stroke-linecap="round"/>
<path d="M583.6,412.8 q4,-4.5 8,0" fill="none" stroke="#a3c672" stroke-width="1.6" stroke-linecap="round"/>
<path d="M584.1,416.3 q3.5,3.2 7,0" fill="none" stroke="#6b9643" stroke-width="1.1" stroke-linecap="round"/>
<path d="M593.0,407.6 q4,-4.5 8,0" fill="none" stroke="#a3c672" stroke-width="1.6" stroke-linecap="round"/>
<path d="M593.5,411.1 q3.5,3.2 7,0" fill="none" stroke="#6b9643" stroke-width="1.1" stroke-linecap="round"/>
<path d="M602.4,402.4 q4,-4.5 8,0" fill="none" stroke="#a3c672" stroke-width="1.6" stroke-linecap="round"/>
<path d="M602.9,405.9 q3.5,3.2 7,0" fill="none" stroke="#6b9643" stroke-width="1.1" stroke-linecap="round"/>
<path d="M611.8,397.2 q4,-4.5 8,0" fill="none" stroke="#a3c672" stroke-width="1.6" stroke-linecap="round"/>
<path d="M612.2,400.8 q3.5,3.2 7,0" fill="none" stroke="#6b9643" stroke-width="1.1" stroke-linecap="round"/>
<path d="M621.1,392.1 q4,-4.5 8,0" fill="none" stroke="#a3c672" stroke-width="1.6" stroke-linecap="round"/>
<path d="M621.6,395.6 q3.5,3.2 7,0" fill="none" stroke="#6b9643" stroke-width="1.1" stroke-linecap="round"/>
<path d="M630.5,386.9 q4,-4.5 8,0" fill="none" stroke="#a3c672" stroke-width="1.6" stroke-linecap="round"/>
<path d="M631.0,390.4 q3.5,3.2 7,0" fill="none" stroke="#6b9643" stroke-width="1.1" stroke-linecap="round"/>
<path d="M639.9,381.7 q4,-4.5 8,0" fill="none" stroke="#a3c672" stroke-width="1.6" stroke-linecap="round"/>
<path d="M640.4,385.2 q3.5,3.2 7,0" fill="none" stroke="#6b9643" stroke-width="1.1" stroke-linecap="round"/>
<path d="M649.3,376.5 q4,-4.5 8,0" fill="none" stroke="#a3c672" stroke-width="1.6" stroke-linecap="round"/>
<path d="M649.8,380.0 q3.5,3.2 7,0" fill="none" stroke="#6b9643" stroke-width="1.1" stroke-linecap="round"/>
<path d="M658.7,371.4 q4,-4.5 8,0" fill="none" stroke="#a3c672" stroke-width="1.6" stroke-linecap="round"/>
<path d="M659.2,374.9 q3.5,3.2 7,0" fill="none" stroke="#6b9643" stroke-width="1.1" stroke-linecap="round"/>
<path d="M668.1,366.2 q4,-4.5 8,0" fill="none" stroke="#a3c672" stroke-width="1.6" stroke-linecap="round"/>
<path d="M668.6,369.7 q3.5,3.2 7,0" fill="none" stroke="#6b9643" stroke-width="1.1" stroke-linecap="round"/>
<path d="M677.5,361.0 q4,-4.5 8,0" fill="none" stroke="#a3c672" stroke-width="1.6" stroke-linecap="round"/>
<path d="M678.0,364.5 q3.5,3.2 7,0" fill="none" stroke="#6b9643" stroke-width="1.1" stroke-linecap="round"/>
<circle cx="676" cy="364" r="10.2" fill="#769f49"/>
<circle cx="676" cy="364" r="9.299999999999999" fill="#8fb45b"/>
<path d="M671,367 q5,4 10,0" fill="none" stroke="#6b9643" stroke-width="1.1"/>
<path d="M671,362 q5,-5 10,0" fill="none" stroke="#a3c672" stroke-width="1.6"/>
<circle cx="683.5" cy="360.5" r="10.6" fill="#769f49"/>
<circle cx="683.5" cy="360.5" r="9.7" fill="#8fb45b"/>
<path d="M678.5,363.5 q5,4 10,0" fill="none" stroke="#6b9643" stroke-width="1.1"/>
<path d="M678.5,358.5 q5,-5 10,0" fill="none" stroke="#a3c672" stroke-width="1.6"/>
<path d="M383,447.7 L436.9,420.8 Q452,421 459.5,431.5 Q459,440 452,443.5 L402.4,476.7 Z" fill="#9aba6c" stroke="#86aa58" stroke-width=".8" stroke-linejoin="round"/>
<circle cx="383.0" cy="447.7" r="3" fill="#9aba6c"/>
<circle cx="388.4" cy="445.0" r="3" fill="#9aba6c"/>
<circle cx="393.8" cy="442.3" r="3" fill="#9aba6c"/>
<circle cx="399.2" cy="439.6" r="3" fill="#9aba6c"/>
<circle cx="404.6" cy="436.9" r="3" fill="#9aba6c"/>
<circle cx="409.9" cy="434.2" r="3" fill="#9aba6c"/>
<circle cx="415.3" cy="431.6" r="3" fill="#9aba6c"/>
<circle cx="420.7" cy="428.9" r="3" fill="#9aba6c"/>
<circle cx="426.1" cy="426.2" r="3" fill="#9aba6c"/>
<circle cx="431.5" cy="423.5" r="3" fill="#9aba6c"/>
<circle cx="436.9" cy="420.8" r="3" fill="#9aba6c"/>
<circle cx="436.9" cy="420.8" r="3" fill="#9aba6c"/>
<circle cx="442.5" cy="423.5" r="3" fill="#9aba6c"/>
<circle cx="448.2" cy="426.1" r="3" fill="#9aba6c"/>
<circle cx="453.9" cy="428.8" r="3" fill="#9aba6c"/>
<circle cx="459.5" cy="431.5" r="3" fill="#9aba6c"/>
<circle cx="459.5" cy="431.5" r="3" fill="#9aba6c"/>
<circle cx="456.8" cy="436.9" r="3" fill="#9aba6c"/>
<circle cx="454.0" cy="442.3" r="3" fill="#9aba6c"/>
<circle cx="454.0" cy="442.3" r="3" fill="#9aba6c"/>
<circle cx="449.3" cy="445.4" r="3" fill="#9aba6c"/>
<circle cx="444.6" cy="448.6" r="3" fill="#9aba6c"/>
<circle cx="439.9" cy="451.7" r="3" fill="#9aba6c"/>
<circle cx="435.2" cy="454.8" r="3" fill="#9aba6c"/>
<circle cx="430.5" cy="457.9" r="3" fill="#9aba6c"/>
<circle cx="425.9" cy="461.1" r="3" fill="#9aba6c"/>
<circle cx="421.2" cy="464.2" r="3" fill="#9aba6c"/>
<circle cx="416.5" cy="467.3" r="3" fill="#9aba6c"/>
<circle cx="411.8" cy="470.4" r="3" fill="#9aba6c"/>
<circle cx="407.1" cy="473.6" r="3" fill="#9aba6c"/>
<circle cx="402.4" cy="476.7" r="3" fill="#9aba6c"/>
<circle cx="402.4" cy="476.7" r="3" fill="#9aba6c"/>
<circle cx="399.2" cy="471.9" r="3" fill="#9aba6c"/>
<circle cx="395.9" cy="467.0" r="3" fill="#9aba6c"/>
<circle cx="392.7" cy="462.2" r="3" fill="#9aba6c"/>
<circle cx="389.5" cy="457.4" r="3" fill="#9aba6c"/>
<circle cx="386.2" cy="452.5" r="3" fill="#9aba6c"/>
<circle cx="383.0" cy="447.7" r="3" fill="#9aba6c"/>
<path d="M388.8,449.8 q3.6,3.6 7.2,0" fill="none" stroke="#7da253" stroke-width="1.5" stroke-linecap="round"/>
<path d="M397.0,445.5 q3.6,3.6 7.2,0" fill="none" stroke="#7da253" stroke-width="1.5" stroke-linecap="round"/>
<path d="M405.3,441.2 q3.6,3.6 7.2,0" fill="none" stroke="#7da253" stroke-width="1.5" stroke-linecap="round"/>
<path d="M413.5,436.9 q3.6,3.6 7.2,0" fill="none" stroke="#7da253" stroke-width="1.5" stroke-linecap="round"/>
<path d="M421.8,432.6 q3.6,3.6 7.2,0" fill="none" stroke="#7da253" stroke-width="1.5" stroke-linecap="round"/>
<path d="M430.0,428.3 q3.6,3.6 7.2,0" fill="none" stroke="#7da253" stroke-width="1.5" stroke-linecap="round"/>
<path d="M397.0,453.6 q3.6,3.6 7.2,0" fill="none" stroke="#7da253" stroke-width="1.5" stroke-linecap="round"/>
<path d="M405.2,448.9 q3.6,3.6 7.2,0" fill="none" stroke="#7da253" stroke-width="1.5" stroke-linecap="round"/>
<path d="M413.5,444.2 q3.6,3.6 7.2,0" fill="none" stroke="#7da253" stroke-width="1.5" stroke-linecap="round"/>
<path d="M421.8,439.6 q3.6,3.6 7.2,0" fill="none" stroke="#7da253" stroke-width="1.5" stroke-linecap="round"/>
<path d="M430.0,434.9 q3.6,3.6 7.2,0" fill="none" stroke="#7da253" stroke-width="1.5" stroke-linecap="round"/>
<path d="M438.3,430.3 q3.6,3.6 7.2,0" fill="none" stroke="#7da253" stroke-width="1.5" stroke-linecap="round"/>
<path d="M397.8,461.5 q3.6,3.6 7.2,0" fill="none" stroke="#7da253" stroke-width="1.5" stroke-linecap="round"/>
<path d="M406.0,456.5 q3.6,3.6 7.2,0" fill="none" stroke="#7da253" stroke-width="1.5" stroke-linecap="round"/>
<path d="M414.3,451.5 q3.6,3.6 7.2,0" fill="none" stroke="#7da253" stroke-width="1.5" stroke-linecap="round"/>
<path d="M422.5,446.4 q3.6,3.6 7.2,0" fill="none" stroke="#7da253" stroke-width="1.5" stroke-linecap="round"/>
<path d="M430.8,441.4 q3.6,3.6 7.2,0" fill="none" stroke="#7da253" stroke-width="1.5" stroke-linecap="round"/>
<path d="M439.0,436.4 q3.6,3.6 7.2,0" fill="none" stroke="#7da253" stroke-width="1.5" stroke-linecap="round"/>
<path d="M406.0,464.9 q3.6,3.6 7.2,0" fill="none" stroke="#7da253" stroke-width="1.5" stroke-linecap="round"/>
<path d="M414.2,459.5 q3.6,3.6 7.2,0" fill="none" stroke="#7da253" stroke-width="1.5" stroke-linecap="round"/>
<path d="M422.5,454.1 q3.6,3.6 7.2,0" fill="none" stroke="#7da253" stroke-width="1.5" stroke-linecap="round"/>
<path d="M430.8,448.8 q3.6,3.6 7.2,0" fill="none" stroke="#7da253" stroke-width="1.5" stroke-linecap="round"/>
<path d="M439.0,443.4 q3.6,3.6 7.2,0" fill="none" stroke="#7da253" stroke-width="1.5" stroke-linecap="round"/>
<path d="M447.3,438.0 q3.6,3.6 7.2,0" fill="none" stroke="#7da253" stroke-width="1.5" stroke-linecap="round"/>
<polygon class="w" points="294,292.5 379.5,245.5 530,201 536,202 584,244 584,257.5 604,277.5 626,294.5 626,309 636,319 636,347.5 580,377.5 572.5,376 560,375.5 547,369 537.5,373 525,367 525,357.5 500.5,343.5 422,367.5 329.5,416.5 329,341 320,332.5 320,319.5 306,295.5"/>
<polyline class="k" points="294,292.5 306,295.5 394,247 379.5,245.5"/>
<polyline class="k" points="306,295.5 320,319.5 410,270 394,247"/>
<polyline class="k" points="320,332.5 410,282 410,270"/>
<polyline class="k" points="329,341 421,290 410,282"/>
<polyline class="k" points="421,290 421,367"/>
<polyline class="k" points="394,247 522.5,209 531.3,201.3"/>
<polyline class="k" points="522.5,209 558,225.6 531.3,201.3"/>
<polyline class="k" points="410,270 558,225.6 559.5,240.5 410,282"/>
<polyline class="k" points="421,290 584,244"/>
<polygon class="wg" points="501,297.5 560,329 560,344 572.5,351 572.5,376 560,375.5 547,369 537.5,373 525,367 525,357.5 501,343.5"/>
<polygon class="wg" points="517.5,278 560,299 560,315 517.5,292.5"/>
<polygon class="w" points="517.5,278 584,259 604,277.5 560,299"/>
<polygon class="w" points="560,299 604,277.5 604,291 560,315"/>
<polyline class="k" points="501,297.5 517.5,292.5"/>
<polyline class="k" points="604,277.5 626,294.5 626,309 560,344"/>
<polyline class="k" points="560,329 626,294.5"/>
<polyline class="k" points="572.5,351 636,319"/>
<polyline class="k" points="626,309 636,319"/>
<polyline class="f" points="183,546 192,580 210,582 222,570 240,575 256,576"/>
<polyline class="f" points="193,551 196,580"/>
<polyline class="f" points="199,549 204,581"/>
<polyline class="f" points="205,547 210,582"/>
<polyline class="f" points="211,545 216,576"/>
<polyline class="f" points="217,543 222,570"/>
<polyline class="f" points="223,540 230,572"/>
<polyline class="f" points="229,538 238,574"/>
<polyline class="f" points="235,556 246,575"/>
<polygon class="l" points="190.3,541.5 225.5,528.6 225.5,536.4 192.9,551"/>
<polygon class="d" points="225.5,528.6 238.4,530.3 237.5,537.2 225.5,535.5"/>
<polygon class="l" points="225.5,528.6 231.5,524.3 243.5,526.9 238.4,530.3"/>
<polygon class="l" points="238.4,530.3 264.1,527 266.7,530.3 277.9,532.9 288.2,526.9 289,554.4 272.7,562.1 264.1,555.2 255.5,557 238.4,555.2"/>
<polygon class="m" points="264.1,516.6 288.2,526.9 277.9,532.9 266.7,530.3 264.1,527"/>
<polygon class="l" points="264.1,516.6 306.2,493.4 327.6,505.5 288.2,526.9"/>
<polygon class="l" points="288.2,526.9 327.6,505.5 327.6,531.2 289,554.4"/>
<polyline class="g" points="266,519.5 286.5,531"/>
<polygon class="" points="252.1,548.4 267.6,532.9 273.6,535.5 260.7,556.1" fill="#c9c9c9" stroke="#9a9a9a" stroke-width=".5"/>
<polygon class="l" points="238.4,555.2 255.5,557 264.1,555.2 276.5,571 274.4,574.3 265,580.3 238.4,559"/>
<polygon class="" points="250.4,560.4 260.7,557.8 274.4,573.3 265,578.3" fill="#cfcfcf" stroke="#9a9a9a" stroke-width=".5"/>
<polygon class="l" points="265.8,579.3 276.1,574.1 326.8,599 315.6,605"/>
<polyline class="g" points="278.5,576.5 322,598.5"/>
<polygon class="d" points="278.7,575.8 307,560.4 307.9,562.1 281.3,576.7"/>
<line x1="353" y1="407.9" x2="353.3" y2="416.5" stroke="#7b6b3c" stroke-width="1.1"/>
<path d="M353.0,393.5 C357.3,393.5 358.7,396.0 358.7,399.3 C358.9,401.8 360.8,402.9 360.8,406.1 C360.8,409.7 357.3,411.5 353.0,411.5 C348.7,411.5 345.2,409.7 345.2,406.1 C345.2,402.9 346.8,401.8 347.0,399.3 C347.0,396.0 348.7,393.5 353.0,393.5 Z" fill="#8ab25c" stroke="#6c9646" stroke-width=".9"/>
<path d="M353.0,396.4 C356.0,396.4 356.9,398.1 356.9,400.3 C357.0,402.0 358.3,402.7 358.3,404.9 C358.3,407.4 356.0,408.6 353.0,408.6 C350.0,408.6 347.7,407.4 347.7,404.9 C347.7,402.7 348.8,402.0 348.9,400.3 C348.9,398.1 350.0,396.4 353.0,396.4 Z" fill="#9dc070" stroke="#7aa350" stroke-width=".7"/>
<line x1="353" y1="399.8" x2="353" y2="410.6" stroke="#6f9a48" stroke-width=".6"/>
<line x1="367.5" y1="400.4" x2="367.8" y2="409.0" stroke="#7b6b3c" stroke-width="1.1"/>
<path d="M367.5,386.0 C371.8,386.0 373.2,388.5 373.2,391.8 C373.4,394.3 375.2,395.4 375.2,398.6 C375.2,402.2 371.8,404.0 367.5,404.0 C363.2,404.0 359.8,402.2 359.8,398.6 C359.8,395.4 361.3,394.3 361.5,391.8 C361.5,388.5 363.2,386.0 367.5,386.0 Z" fill="#8ab25c" stroke="#6c9646" stroke-width=".9"/>
<path d="M367.5,388.9 C370.5,388.9 371.4,390.6 371.4,392.8 C371.5,394.5 372.8,395.2 372.8,397.4 C372.8,399.9 370.5,401.1 367.5,401.1 C364.5,401.1 362.2,399.9 362.2,397.4 C362.2,395.2 363.3,394.5 363.4,392.8 C363.4,390.6 364.5,388.9 367.5,388.9 Z" fill="#9dc070" stroke="#7aa350" stroke-width=".7"/>
<line x1="367.5" y1="392.3" x2="367.5" y2="403.1" stroke="#6f9a48" stroke-width=".6"/>
<line x1="381.7" y1="394.1" x2="382.0" y2="402.7" stroke="#7b6b3c" stroke-width="1.1"/>
<path d="M381.7,379.7 C386.0,379.7 387.4,382.2 387.4,385.5 C387.6,388.0 389.4,389.1 389.4,392.3 C389.4,395.9 386.0,397.7 381.7,397.7 C377.4,397.7 373.9,395.9 373.9,392.3 C373.9,389.1 375.5,388.0 375.7,385.5 C375.7,382.2 377.4,379.7 381.7,379.7 Z" fill="#8ab25c" stroke="#6c9646" stroke-width=".9"/>
<path d="M381.7,382.6 C384.7,382.6 385.6,384.3 385.6,386.5 C385.7,388.2 387.0,388.9 387.0,391.1 C387.0,393.6 384.7,394.8 381.7,394.8 C378.7,394.8 376.4,393.6 376.4,391.1 C376.4,388.9 377.5,388.2 377.6,386.5 C377.6,384.3 378.7,382.6 381.7,382.6 Z" fill="#9dc070" stroke="#7aa350" stroke-width=".7"/>
<line x1="381.7" y1="386.0" x2="381.7" y2="396.8" stroke="#6f9a48" stroke-width=".6"/>
<line x1="400" y1="384.1" x2="400.3" y2="392.7" stroke="#7b6b3c" stroke-width="1.1"/>
<path d="M400.0,369.7 C404.3,369.7 405.7,372.2 405.7,375.5 C405.9,378.0 407.8,379.1 407.8,382.3 C407.8,385.9 404.3,387.7 400.0,387.7 C395.7,387.7 392.2,385.9 392.2,382.3 C392.2,379.1 393.8,378.0 394.0,375.5 C394.0,372.2 395.7,369.7 400.0,369.7 Z" fill="#8ab25c" stroke="#6c9646" stroke-width=".9"/>
<path d="M400.0,372.6 C403.0,372.6 403.9,374.3 403.9,376.5 C404.0,378.2 405.3,378.9 405.3,381.1 C405.3,383.6 403.0,384.8 400.0,384.8 C397.0,384.8 394.7,383.6 394.7,381.1 C394.7,378.9 395.8,378.2 395.9,376.5 C395.9,374.3 397.0,372.6 400.0,372.6 Z" fill="#9dc070" stroke="#7aa350" stroke-width=".7"/>
<line x1="400" y1="376.0" x2="400" y2="386.8" stroke="#6f9a48" stroke-width=".6"/>
<line x1="415.7" y1="379.1" x2="416.0" y2="387.7" stroke="#7b6b3c" stroke-width="1.1"/>
<path d="M415.7,364.7 C420.0,364.7 421.4,367.2 421.4,370.5 C421.6,373.0 423.4,374.1 423.4,377.3 C423.4,380.9 420.0,382.7 415.7,382.7 C411.4,382.7 407.9,380.9 407.9,377.3 C407.9,374.1 409.5,373.0 409.7,370.5 C409.7,367.2 411.4,364.7 415.7,364.7 Z" fill="#8ab25c" stroke="#6c9646" stroke-width=".9"/>
<path d="M415.7,367.6 C418.7,367.6 419.6,369.3 419.6,371.5 C419.7,373.2 421.0,373.9 421.0,376.1 C421.0,378.6 418.7,379.8 415.7,379.8 C412.7,379.8 410.4,378.6 410.4,376.1 C410.4,373.9 411.5,373.2 411.6,371.5 C411.6,369.3 412.7,367.6 415.7,367.6 Z" fill="#9dc070" stroke="#7aa350" stroke-width=".7"/>
<line x1="415.7" y1="371.0" x2="415.7" y2="381.8" stroke="#6f9a48" stroke-width=".6"/>
<line x1="430.7" y1="371.4" x2="431.0" y2="380.0" stroke="#7b6b3c" stroke-width="1.1"/>
<path d="M430.7,357.0 C435.0,357.0 436.4,359.5 436.4,362.8 C436.6,365.3 438.4,366.4 438.4,369.6 C438.4,373.2 435.0,375.0 430.7,375.0 C426.4,375.0 422.9,373.2 422.9,369.6 C422.9,366.4 424.5,365.3 424.7,362.8 C424.7,359.5 426.4,357.0 430.7,357.0 Z" fill="#8ab25c" stroke="#6c9646" stroke-width=".9"/>
<path d="M430.7,359.9 C433.7,359.9 434.6,361.6 434.6,363.8 C434.7,365.5 436.0,366.2 436.0,368.4 C436.0,370.9 433.7,372.1 430.7,372.1 C427.7,372.1 425.4,370.9 425.4,368.4 C425.4,366.2 426.5,365.5 426.6,363.8 C426.6,361.6 427.7,359.9 430.7,359.9 Z" fill="#9dc070" stroke="#7aa350" stroke-width=".7"/>
<line x1="430.7" y1="363.3" x2="430.7" y2="374.1" stroke="#6f9a48" stroke-width=".6"/>
<line x1="447" y1="367.4" x2="447.3" y2="376.0" stroke="#7b6b3c" stroke-width="1.1"/>
<path d="M447.0,353.0 C451.3,353.0 452.7,355.5 452.7,358.8 C452.9,361.3 454.8,362.4 454.8,365.6 C454.8,369.2 451.3,371.0 447.0,371.0 C442.7,371.0 439.2,369.2 439.2,365.6 C439.2,362.4 440.8,361.3 441.0,358.8 C441.0,355.5 442.7,353.0 447.0,353.0 Z" fill="#8ab25c" stroke="#6c9646" stroke-width=".9"/>
<path d="M447.0,355.9 C450.0,355.9 450.9,357.6 450.9,359.8 C451.0,361.5 452.3,362.2 452.3,364.4 C452.3,366.9 450.0,368.1 447.0,368.1 C444.0,368.1 441.7,366.9 441.7,364.4 C441.7,362.2 442.8,361.5 442.9,359.8 C442.9,357.6 444.0,355.9 447.0,355.9 Z" fill="#9dc070" stroke="#7aa350" stroke-width=".7"/>
<line x1="447" y1="359.3" x2="447" y2="370.1" stroke="#6f9a48" stroke-width=".6"/>
<line x1="468.7" y1="361.4" x2="469.0" y2="370.0" stroke="#7b6b3c" stroke-width="1.1"/>
<path d="M468.7,347.0 C473.0,347.0 474.4,349.5 474.4,352.8 C474.6,355.3 476.4,356.4 476.4,359.6 C476.4,363.2 473.0,365.0 468.7,365.0 C464.4,365.0 460.9,363.2 460.9,359.6 C460.9,356.4 462.5,355.3 462.7,352.8 C462.7,349.5 464.4,347.0 468.7,347.0 Z" fill="#8ab25c" stroke="#6c9646" stroke-width=".9"/>
<path d="M468.7,349.9 C471.7,349.9 472.6,351.6 472.6,353.8 C472.7,355.5 474.0,356.2 474.0,358.4 C474.0,360.9 471.7,362.1 468.7,362.1 C465.7,362.1 463.4,360.9 463.4,358.4 C463.4,356.2 464.5,355.5 464.6,353.8 C464.6,351.6 465.7,349.9 468.7,349.9 Z" fill="#9dc070" stroke="#7aa350" stroke-width=".7"/>
<line x1="468.7" y1="353.3" x2="468.7" y2="364.1" stroke="#6f9a48" stroke-width=".6"/>
<line x1="485" y1="357.9" x2="485.3" y2="366.5" stroke="#7b6b3c" stroke-width="1.1"/>
<path d="M485.0,343.5 C489.3,343.5 490.7,346.0 490.7,349.3 C490.9,351.8 492.8,352.9 492.8,356.1 C492.8,359.7 489.3,361.5 485.0,361.5 C480.7,361.5 477.2,359.7 477.2,356.1 C477.2,352.9 478.8,351.8 479.0,349.3 C479.0,346.0 480.7,343.5 485.0,343.5 Z" fill="#8ab25c" stroke="#6c9646" stroke-width=".9"/>
<path d="M485.0,346.4 C488.0,346.4 488.9,348.1 488.9,350.3 C489.0,352.0 490.3,352.7 490.3,354.9 C490.3,357.4 488.0,358.6 485.0,358.6 C482.0,358.6 479.7,357.4 479.7,354.9 C479.7,352.7 480.8,352.0 480.9,350.3 C480.9,348.1 482.0,346.4 485.0,346.4 Z" fill="#9dc070" stroke="#7aa350" stroke-width=".7"/>
<line x1="485" y1="349.8" x2="485" y2="360.6" stroke="#6f9a48" stroke-width=".6"/>
<line x1="500" y1="357.9" x2="500.3" y2="366.5" stroke="#7b6b3c" stroke-width="1.1"/>
<path d="M500.0,343.5 C504.3,343.5 505.7,346.0 505.7,349.3 C505.9,351.8 507.8,352.9 507.8,356.1 C507.8,359.7 504.3,361.5 500.0,361.5 C495.7,361.5 492.2,359.7 492.2,356.1 C492.2,352.9 493.8,351.8 494.0,349.3 C494.0,346.0 495.7,343.5 500.0,343.5 Z" fill="#8ab25c" stroke="#6c9646" stroke-width=".9"/>
<path d="M500.0,346.4 C503.0,346.4 503.9,348.1 503.9,350.3 C504.0,352.0 505.3,352.7 505.3,354.9 C505.3,357.4 503.0,358.6 500.0,358.6 C497.0,358.6 494.7,357.4 494.7,354.9 C494.7,352.7 495.8,352.0 495.9,350.3 C495.9,348.1 497.0,346.4 500.0,346.4 Z" fill="#9dc070" stroke="#7aa350" stroke-width=".7"/>
<line x1="500" y1="349.8" x2="500" y2="360.6" stroke="#6f9a48" stroke-width=".6"/>
<line x1="671.5" y1="317.9" x2="671.8" y2="337.5" stroke="#7b6b3c" stroke-width="1.9"/>
<path d="M671.5,295.5 C679.1,295.5 681.5,299.4 681.5,304.5 C681.8,308.4 685.0,310.1 685.0,315.1 C685.0,320.7 679.1,323.5 671.5,323.5 C663.9,323.5 658.0,320.7 658.0,315.1 C658.0,310.1 660.7,308.4 661.0,304.5 C661.0,299.4 663.9,295.5 671.5,295.5 Z" fill="#8ab25c" stroke="#6c9646" stroke-width=".9"/>
<path d="M671.5,300.0 C676.6,300.0 678.3,302.6 678.3,306.1 C678.5,308.7 680.7,309.9 680.7,313.3 C680.7,317.1 676.6,319.0 671.5,319.0 C666.4,319.0 662.3,317.1 662.3,313.3 C662.3,309.9 664.2,308.7 664.3,306.1 C664.3,302.6 666.4,300.0 671.5,300.0 Z" fill="#9dc070" stroke="#7aa350" stroke-width=".7"/>
<line x1="671.5" y1="305.3" x2="671.5" y2="322.1" stroke="#6f9a48" stroke-width=".6"/>
<line x1="569" y1="388.7" x2="569.3" y2="406.5" stroke="#7b6b3c" stroke-width="1.8"/>
<path d="M569.0,365.5 C576.0,365.5 578.2,369.6 578.2,374.8 C578.5,378.8 581.5,380.6 581.5,385.8 C581.5,391.6 576.0,394.5 569.0,394.5 C562.0,394.5 556.5,391.6 556.5,385.8 C556.5,380.6 559.0,378.8 559.2,374.8 C559.2,369.6 562.0,365.5 569.0,365.5 Z" fill="#8ab25c" stroke="#6c9646" stroke-width=".9"/>
<path d="M569.0,370.1 C573.8,370.1 575.3,372.9 575.3,376.5 C575.5,379.2 577.5,380.4 577.5,383.9 C577.5,387.9 573.8,389.9 569.0,389.9 C564.2,389.9 560.5,387.9 560.5,383.9 C560.5,380.4 562.2,379.2 562.4,376.5 C562.4,372.9 564.2,370.1 569.0,370.1 Z" fill="#9dc070" stroke="#7aa350" stroke-width=".7"/>
<line x1="569" y1="375.6" x2="569" y2="393.1" stroke="#6f9a48" stroke-width=".6"/>
<line x1="446" y1="399.3" x2="446.3" y2="417.5" stroke="#7b6b3c" stroke-width="1.8"/>
<path d="M446.0,374.5 C453.3,374.5 455.6,378.8 455.6,384.4 C455.9,388.8 459.0,390.6 459.0,396.2 C459.0,402.4 453.3,405.5 446.0,405.5 C438.7,405.5 433.0,402.4 433.0,396.2 C433.0,390.6 435.6,388.8 435.9,384.4 C435.9,378.8 438.7,374.5 446.0,374.5 Z" fill="#8ab25c" stroke="#6c9646" stroke-width=".9"/>
<path d="M446.0,379.5 C451.0,379.5 452.5,382.4 452.5,386.2 C452.7,389.2 454.8,390.4 454.8,394.2 C454.8,398.4 451.0,400.5 446.0,400.5 C441.0,400.5 437.2,398.4 437.2,394.2 C437.2,390.4 438.9,389.2 439.1,386.2 C439.1,382.4 441.0,379.5 446.0,379.5 Z" fill="#9dc070" stroke="#7aa350" stroke-width=".7"/>
<line x1="446" y1="385.4" x2="446" y2="403.9" stroke="#6f9a48" stroke-width=".6"/>
<line x1="539.5" y1="465.8" x2="539.8" y2="483.0" stroke="#7b6b3c" stroke-width="1.5"/>
<path d="M539.5,445.0 C545.7,445.0 547.6,448.6 547.6,453.3 C547.9,457.0 550.5,458.5 550.5,463.2 C550.5,468.4 545.7,471.0 539.5,471.0 C533.3,471.0 528.5,468.4 528.5,463.2 C528.5,458.5 530.7,457.0 530.9,453.3 C530.9,448.6 533.3,445.0 539.5,445.0 Z" fill="#8ab25c" stroke="#6c9646" stroke-width=".9"/>
<path d="M539.5,449.2 C543.7,449.2 545.0,451.6 545.0,454.8 C545.2,457.3 547.0,458.4 547.0,461.5 C547.0,465.1 543.7,466.8 539.5,466.8 C535.3,466.8 532.0,465.1 532.0,461.5 C532.0,458.4 533.5,457.3 533.7,454.8 C533.7,451.6 535.3,449.2 539.5,449.2 Z" fill="#9dc070" stroke="#7aa350" stroke-width=".7"/>
<line x1="539.5" y1="454.1" x2="539.5" y2="469.7" stroke="#6f9a48" stroke-width=".6"/>
<defs><filter id="halo" x="-5%" y="-40%" width="110%" height="180%" color-interpolation-filters="sRGB"><feMorphology in="SourceAlpha" operator="dilate" radius="1.3" result="d"/><feGaussianBlur in="d" stdDeviation=".35" result="b"/><feFlood flood-color="#fff"/><feComposite in2="b" operator="in" result="h"/><feMerge><feMergeNode in="h"/><feMergeNode in="h"/><feMergeNode in="SourceGraphic"/></feMerge></filter><filter id="plain" color-interpolation-filters="sRGB"><feMerge><feMergeNode in="SourceGraphic"/></feMerge></filter></defs>
<text class="t" transform="translate(193,147.4) rotate(-15.6)" font-size="27.5" filter="url(#plain)"><tspan x="-1.2" textLength="74.2" lengthAdjust="spacingAndGlyphs">Route</tspan> <tspan x="80.0" textLength="23.0" lengthAdjust="spacingAndGlyphs">d’</tspan><tspan x="101.0" textLength="72.7" lengthAdjust="spacingAndGlyphs">Arlon</tspan></text>
<text class="t" transform="translate(213.6,531.2) rotate(-26.3)" font-size="27.5" filter="url(#halo)"><tspan x="-1.2" textLength="47.9" lengthAdjust="spacingAndGlyphs">Rue</tspan> <tspan x="56.8" textLength="93.3" lengthAdjust="spacingAndGlyphs">Nicolas</tspan> <tspan x="158.3" textLength="97.8" lengthAdjust="spacingAndGlyphs">Simmer</tspan></text>
<text class="t" transform="translate(481,652.5) rotate(-30.5)" font-size="27.5" filter="url(#halo)"><tspan x="1.3" textLength="41.2" lengthAdjust="spacingAndGlyphs">Val</tspan> <tspan x="49.8" textLength="160.8" lengthAdjust="spacingAndGlyphs">Sainte-Croix</tspan></text>
</svg>
</body>
</html>
